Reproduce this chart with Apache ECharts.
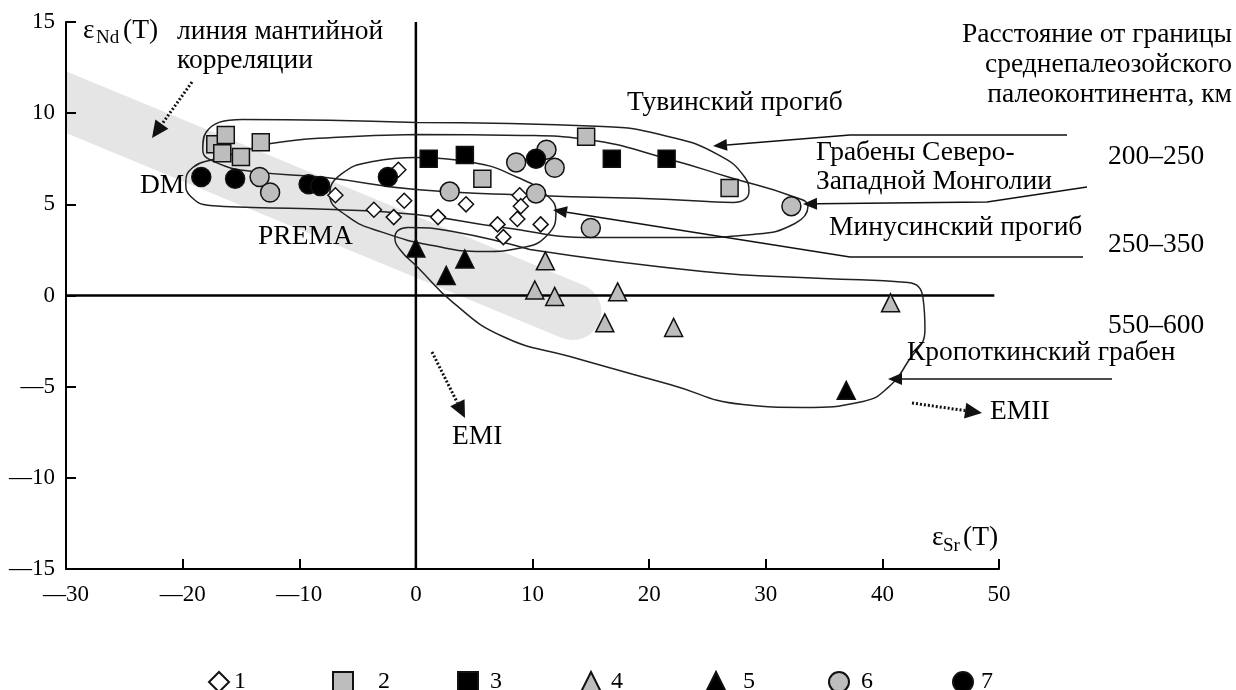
<!DOCTYPE html>
<html>
<head>
<meta charset="utf-8">
<script src="https://cdn.jsdelivr.net/npm/echarts@6/dist/echarts.min.js"></script>
<style>
html, body { margin: 0; padding: 0; background: #fff; }
#chart { width: 1236px; height: 690px; }
</style>
</head>
<body>
<div id="chart"></div>
<script>
// точки по группам (εSr, εNd)
var diamonds1 = [[-1.5,6.9],[-6.9,5.5],[-3.6,4.7],[-1.9,4.3],[-1.0,5.2],[1.9,4.3],[4.3,5.0],[7.0,3.9],[7.5,3.2],[8.7,4.2],[8.9,5.5],[9.0,4.9],[10.7,3.9]];
var graySquares2 = [[-17.2,8.3],[-16.3,8.8],[-16.6,7.8],[-15.0,7.6],[-13.3,8.4],[14.6,8.7],[5.7,6.4],[26.9,5.9]];
var blackSquares3 = [[1.1,7.5],[4.2,7.7],[16.8,7.5],[21.5,7.5]];
var grayTriangles4 = [[11.1,1.9],[10.2,0.3],[11.9,-0.05],[17.3,0.2],[16.2,-1.5],[22.1,-1.75],[40.7,-0.4]];
var blackTriangles5 = [[0,2.6],[4.2,2.0],[2.6,1.1],[36.9,-5.2]];
var grayCircles6 = [[-13.4,6.5],[-12.5,5.65],[11.2,8.0],[8.6,7.3],[11.9,7.0],[2.9,5.7],[10.3,5.6],[15.0,3.7],[32.2,4.9]];
var blackCircles7 = [[-18.4,6.5],[-15.5,6.4],[-9.2,6.1],[-8.2,6.0],[-2.4,6.5],[10.3,7.5]];

// контуры полей
var loopTuva = [[0,9.49],[16.04,9.27],[21.61,8.72],[25.9,7.73],[28.22,6.47],[28.56,5.7],[27.19,5.1],[21.78,5.27],[10.29,5.49],[0,5.81],[-7.72,6.47],[-13.98,6.8],[-17.15,7.3],[-18.27,8.0],[-18.0,8.94],[-14.84,9.65],[0,9.49]];
var loopMongolia = [[0,8.83],[9.18,8.78],[14.58,8.56],[21.78,7.46],[26.93,6.47],[32.33,5.43],[33.62,4.88],[32.5,3.95],[28.9,3.35],[22.9,3.18],[15.18,3.18],[7.46,3.73],[0,4.44],[-7.12,4.72],[-13.98,4.83],[-17.67,4.94],[-19.3,5.43],[-19.73,6.2],[-19.13,7.02],[-17.41,7.46],[-14.84,7.9],[-12.44,8.34],[-7.12,8.67],[0,8.83]];
var loopMinusinsk = [[0,7.57],[4.89,7.3],[8.75,6.47],[11.15,5.54],[12.01,4.55],[11.32,3.35],[9.18,2.63],[5.75,2.41],[1.46,2.74],[-2.83,3.46],[-5.83,4.33],[-7.38,5.54],[-6.43,6.64],[-3.69,7.35],[0,7.57]];
var loopKropotkin = [[9.78,2.52],[24.61,1.32],[34.91,0.93],[42.2,0.71],[43.48,-0.11],[43.65,-1.87],[42.2,-3.62],[40.48,-5.05],[38.34,-5.81],[33.19,-6.14],[28.04,-5.98],[21.78,-4.88],[13.21,-3.35],[7.46,-2.25],[3.17,-0.38],[0.17,1.54],[-1.37,2.52],[-1.8,3.18],[-0.69,3.73],[3.17,3.51],[9.78,2.52]];

// линия мантийной корреляции: начало и конец оси полосы
var mantleBand = [[-30, 10.61, 13.46, -0.88]];
var zeroV = [[0,-15],[0,15]];
var zeroH = [[-30,0],[49.6,0]];

var legendNames = ['1','2','3','4','5','6','7'];

var FONT = '"Liberation Serif", "Times New Roman", serif';
var BIG = 27.5;

function txt(s, x, y, size, align) {
  return { type: 'text', x: x, y: y, z: 10, silent: true,
    style: { text: s, font: size + 'px ' + FONT, fill: '#000', align: align || 'left', verticalAlign: 'middle' } };
}

function arrow(pts, dotted) {
  var n = pts.length, tip = pts[n - 1], prev = pts[n - 2];
  var dx = tip[0] - prev[0], dy = tip[1] - prev[1], d = Math.sqrt(dx * dx + dy * dy);
  var ux = dx / d, uy = dy / d;
  var L = dotted ? 17 : 14, W = dotted ? 8 : 6;
  var bx = tip[0] - ux * L, by = tip[1] - uy * L;
  var line = pts.slice(0, n - 1).concat([[bx, by]]);
  return [
    { type: 'polyline', z: 10, silent: true, shape: { points: line },
      style: { stroke: '#111', fill: null, lineWidth: dotted ? 3 : 1.5, lineDash: dotted ? [2, 2] : null } },
    { type: 'polygon', z: 10, silent: true,
      shape: { points: [tip, [bx - uy * W, by + ux * W], [bx + uy * W, by - ux * W]] },
      style: { fill: '#111' } }
  ];
}

function scat(name, data, symbol, size, fill) {
  return { name: name, type: 'scatter', data: data, symbol: symbol, symbolSize: size, z: 4,
    itemStyle: { color: fill, borderColor: '#111', borderWidth: 1.5, opacity: 1 } };
}

function loop(data) {
  return { type: 'line', data: data, smooth: 0.5, symbol: 'none', silent: true, z: 3,
    lineStyle: { color: '#222', width: 1.5 } };
}

// серая полоса: от оси Y до скруглённого конца
function renderBand(params, api) {
  var a = api.coord([api.value(0), api.value(1)]);
  var b = api.coord([api.value(2), api.value(3)]);
  var r = 28.5;
  var dx = b[0] - a[0], dy = b[1] - a[1], d = Math.sqrt(dx * dx + dy * dy);
  var ux = dx / d, uy = dy / d;
  var nx = uy, ny = -ux; // нормаль вверх
  var h = r / ux;
  var pts = [[a[0], a[1] - h], [b[0] + nx * r, b[1] + ny * r]];
  var a0 = Math.atan2(ny, nx);
  for (var i = 1; i < 18; i++) {
    var t = a0 + Math.PI * i / 18;
    pts.push([b[0] + Math.cos(t) * r, b[1] + Math.sin(t) * r]);
  }
  pts.push([b[0] - nx * r, b[1] - ny * r]);
  pts.push([a[0], a[1] + h]);
  return { type: 'polygon', shape: { points: pts }, style: { fill: '#e5e5e5' } };
}

var chart = echarts.init(document.getElementById('chart'));

var graphics = [
  txt('ε', 83, 31, BIG), txt('Nd', 96, 38, 19), txt('(T)', 123, 31, BIG),
  txt('ε', 932, 538, BIG), txt('Sr', 943, 546, 19), txt('(T)', 963, 538, BIG),
  txt('линия мантийной', 177, 32, BIG),
  txt('корреляции', 177, 61, BIG),
  txt('DM', 140, 186, BIG),
  txt('PREMA', 258, 237, BIG),
  txt('Расстояние от границы', 1232, 35, BIG, 'right'),
  txt('среднепалеозойского', 1232, 65, BIG, 'right'),
  txt('палеоконтинента, км', 1232, 95, BIG, 'right'),
  txt('Тувинский прогиб', 627, 103, BIG),
  txt('Грабены Северо-', 816, 153, BIG),
  txt('Западной Монголии', 816, 182, BIG),
  txt('200–250', 1108, 157, BIG),
  txt('Минусинский прогиб', 829, 228, BIG),
  txt('250–350', 1108, 245, BIG),
  txt('550–600', 1108, 326, BIG),
  txt('Кропоткинский грабен', 907, 353, BIG),
  txt('EMII', 990, 412, BIG),
  txt('EMI', 452, 437, BIG)
];
graphics = graphics
  .concat(arrow([[1067,135],[850,135],[713,146]]))
  .concat(arrow([[1087,187],[987,202],[803,204]]))
  .concat(arrow([[1083,257],[850,257],[553,210]]))
  .concat(arrow([[1112,379],[888,379]]))
  .concat(arrow([[192,82],[152,138]], true))
  .concat(arrow([[432,352],[465,418]], true))
  .concat(arrow([[912,403],[982,413]], true));

// легенда: каждый значок отдельно, как на рисунке
var legendLeft = [208, 332, 457, 580, 705, 828, 952];
var legendPad = [0, 20, 7, 5, 12, 7, 3];
var legends = legendNames.map(function (nm, i) {
  return {
    data: [nm], left: legendLeft[i], top: 670, padding: 0,
    itemWidth: 20, itemHeight: 20,
    textStyle: { fontFamily: FONT, fontSize: 24, color: '#000', padding: [0, 0, 0, legendPad[i]] }
  };
});

var option = {
  animation: false,
  backgroundColor: '#fff',
  grid: { left: 66, right: 237, top: 22, bottom: 121 },
  legend: legends,
  xAxis: {
    type: 'value', min: -30, max: 50, interval: 10, z: 5,
    axisLine: { onZero: false, lineStyle: { color: '#000', width: 2 } },
    axisTick: { inside: true, length: 10, lineStyle: { color: '#000', width: 2 } },
    axisLabel: { color: '#000', fontFamily: FONT, fontSize: 23, margin: 14,
      formatter: function (v) { return String(v).replace('-', '—'); } },
    splitLine: { show: false }
  },
  yAxis: {
    type: 'value', min: -15, max: 15, interval: 5, z: 5,
    axisLine: { onZero: false, lineStyle: { color: '#000', width: 2 } },
    axisTick: { inside: true, length: 10, lineStyle: { color: '#000', width: 2 } },
    axisLabel: { color: '#000', fontFamily: FONT, fontSize: 23, margin: 11,
      formatter: function (v) { return String(v).replace('-', '—'); } },
    splitLine: { show: false }
  },
  graphic: graphics,
  series: [
    { type: 'custom', data: mantleBand, renderItem: renderBand, silent: true, z: 1,
      encode: { x: [0, 2], y: [1, 3] } },
    { type: 'line', data: zeroV, symbol: 'none', silent: true, z: 2, lineStyle: { color: '#000', width: 2.5 } },
    { type: 'line', data: zeroH, symbol: 'none', silent: true, z: 2, lineStyle: { color: '#000', width: 2.5 } },
    loop(loopTuva),
    loop(loopMongolia),
    loop(loopMinusinsk),
    loop(loopKropotkin),
    scat('1', diamonds1, 'diamond', 15, '#fff'),
    scat('2', graySquares2, 'rect', 17, '#bdbdbd'),
    scat('3', blackSquares3, 'rect', 17, '#000'),
    scat('4', grayTriangles4, 'triangle', 18, '#bdbdbd'),
    scat('5', blackTriangles5, 'triangle', 18, '#000'),
    scat('6', grayCircles6, 'circle', 19, '#bdbdbd'),
    scat('7', blackCircles7, 'circle', 19, '#000')
  ]
};
chart.setOption(option);
</script>
</body>
</html>
